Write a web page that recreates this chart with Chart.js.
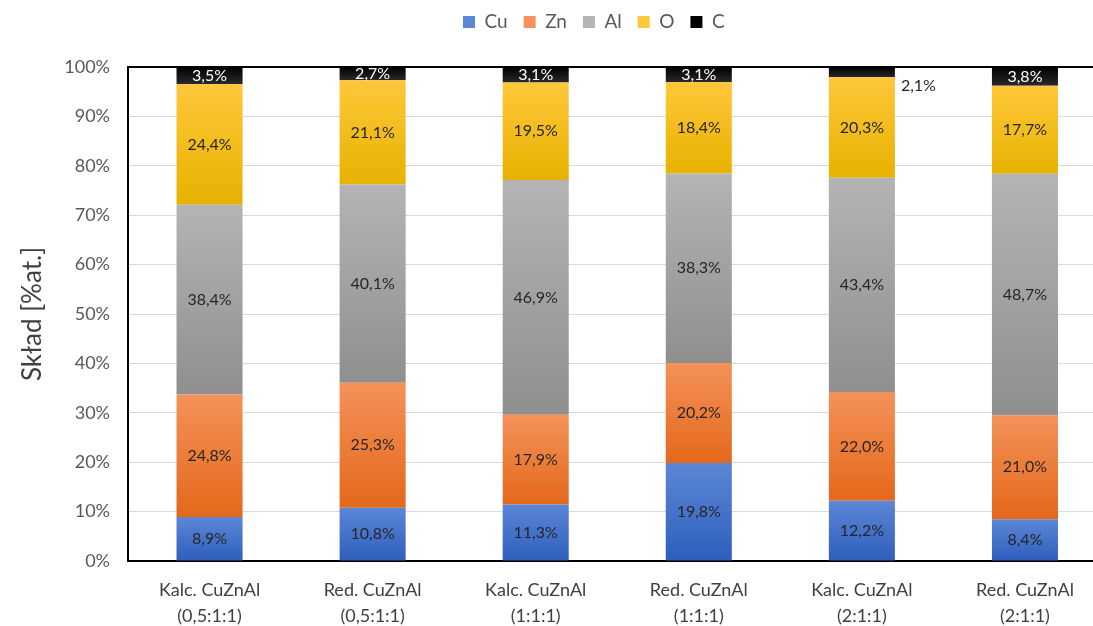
<!DOCTYPE html>
<html><head><meta charset="utf-8">
<script src="https://cdn.jsdelivr.net/npm/chart.js@4/dist/chart.umd.min.js"></script>
<style>html,body{margin:0;padding:0;overflow:hidden;background:#fff;width:1093px;height:626px}canvas{display:block}</style>
</head><body><canvas id="c" width="1120" height="626"></canvas>
<script>
const categories = [["Kalc. CuZnAl","(0,5:1:1)"],["Red. CuZnAl","(0,5:1:1)"],["Kalc. CuZnAl","(1:1:1)"],["Red. CuZnAl","(1:1:1)"],["Kalc. CuZnAl","(2:1:1)"],["Red. CuZnAl","(2:1:1)"]];
const seriesNames = ["Cu","Zn","Al","O","C"];
const cuValues = [8.9,10.8,11.3,19.8,12.2,8.4];
const znValues = [24.8,25.3,17.9,20.2,22.0,21.0];
const alValues = [38.4,40.1,46.9,38.3,43.4,48.7];
const oValues  = [24.4,21.1,19.5,18.4,20.3,17.7];
const cValues  = [3.5,2.7,3.1,3.1,2.1,3.8];
const yTickValues = [0,10,20,30,40,50,60,70,80,90,100];

const seriesValues = [cuValues, znValues, alValues, oValues, cValues];
const solid = ["#4472c4","#ed7d31","#a5a5a5","#ffc000","#000000"];
const gradTop = ["#5c87d6","#f4925a","#b4b4b4","#ffc73a","#000000"];
const gradBot = ["#2e5ebd","#e4681a","#8f8f8f","#e7b200","#2a2a2a"];
const labelColors = ["#262626","#262626","#262626","#262626","#ffffff"];
const outsideLabels = [[4,4]]; // [series, category]

const totals = categories.map((_, j) => seriesValues.reduce((s, arr) => s + arr[j], 0));
const normalized = seriesValues.map(arr => arr.map((v, j) => v / totals[j] * 100));

function fmt(v){ return v.toFixed(1).replace('.', ',') + '%'; }

function makeBg(i){
  return function(ctx){
    const chart = ctx.chart;
    if (!chart.chartArea || ctx.type !== 'data') return solid[i];
    const j = ctx.dataIndex;
    let start = 0;
    for (let k = 0; k < i; k++) start += normalized[k][j];
    const end = start + normalized[i][j];
    const ys = chart.scales.y;
    const y0 = ys.getPixelForValue(start), y1 = ys.getPixelForValue(end);
    if (!isFinite(y0) || !isFinite(y1) || y0 === y1) return solid[i];
    const g = chart.ctx.createLinearGradient(0, y1, 0, y0);
    g.addColorStop(0, gradTop[i]);
    g.addColorStop(1, gradBot[i]);
    return g;
  };
}

const datasets = seriesNames.map((name, i) => ({
  label: name,
  data: normalized[i],
  backgroundColor: makeBg(i),
  borderWidth: 0,
  barPercentage: 0.405,
  categoryPercentage: 1.0
}));

const labelPlugin = {
  id: 'segLabels',
  afterDatasetsDraw(chart){
    const ctx = chart.ctx;
    ctx.save();
    ctx.font = '16px Lato';
    ctx.textBaseline = 'middle';
    chart.data.datasets.forEach((ds, i) => {
      const meta = chart.getDatasetMeta(i);
      meta.data.forEach((el, j) => {
        const txt = fmt(seriesValues[i][j]);
        const outside = outsideLabels.some(p => p[0] === i && p[1] === j);
        if (outside) {
          ctx.fillStyle = '#262626';
          ctx.textAlign = 'left';
          ctx.fillText(txt, el.x + el.width / 2 + 6, el.base + 8);
        } else {
          ctx.fillStyle = labelColors[i];
          ctx.textAlign = 'center';
          ctx.fillText(txt, el.x, (el.y + el.base) / 2);
        }
      });
    });
    ctx.restore();
  }
};

const legendShift = {
  id: 'legendShift',
  afterLayout(chart){
    const lg = chart.legend;
    if (!lg || !lg.lineWidths) return;
    const pad = lg.options.labels.padding;
    const start = (lg.left + pad + lg.right - lg.lineWidths[0]) / 2;
    const dx = 463 - start;
    lg.left += dx; lg.right += dx;
    const itemH = 19 * 1.2;
    const dy = 24 - (lg.top + pad + itemH / 2);
    lg.top += dy; lg.bottom += dy;
  }
};

new Chart(document.getElementById('c'), {
  type: 'bar',
  data: { labels: categories, datasets },
  plugins: [labelPlugin, legendShift],
  options: {
    responsive: false,
    animation: false,
    devicePixelRatio: 1,
    layout: { padding: { left: 17, right: 13.5, top: 22, bottom: 0 } },
    plugins: {
      legend: {
        position: 'top',
        labels: {
          boxWidth: 12, boxHeight: 12, padding: 16,
          color: '#595959',
          font: { family: 'Lato', size: 19 }
        }
      },
      tooltip: { enabled: false }
    },
    scales: {
      x: {
        stacked: true,
        grid: { display: false, drawTicks: false },
        border: { display: true, color: '#000000', width: 2 },
        ticks: { color: '#404040', font: { family: 'Lato', size: 18, lineHeight: 1.45 }, padding: 16, maxRotation: 0, autoSkip: false },
        afterFit(s){ s.height = 65; }
      },
      y: {
        stacked: true,
        min: 0, max: 100,
        afterBuildTicks(s){ s.ticks = yTickValues.map(v => ({ value: v })); },
        grid: {
          drawTicks: false,
          color: c => (c.tick && c.tick.value === 100) ? '#000000' : '#d9d9d9',
          lineWidth: c => (c.tick && c.tick.value === 100) ? 2 : 1
        },
        border: { display: true, color: '#000000', width: 2 },
        ticks: { color: '#595959', font: { family: 'Lato', size: 18 }, padding: 18, callback: v => v + '%' },
        title: { display: true, text: 'Skład [%at.]', color: '#404040', font: { family: 'Lato', size: 26 }, padding: 0 },
        afterFit(s){ s.width = 111; }
      }
    }
  }
});
</script>
</body></html>
